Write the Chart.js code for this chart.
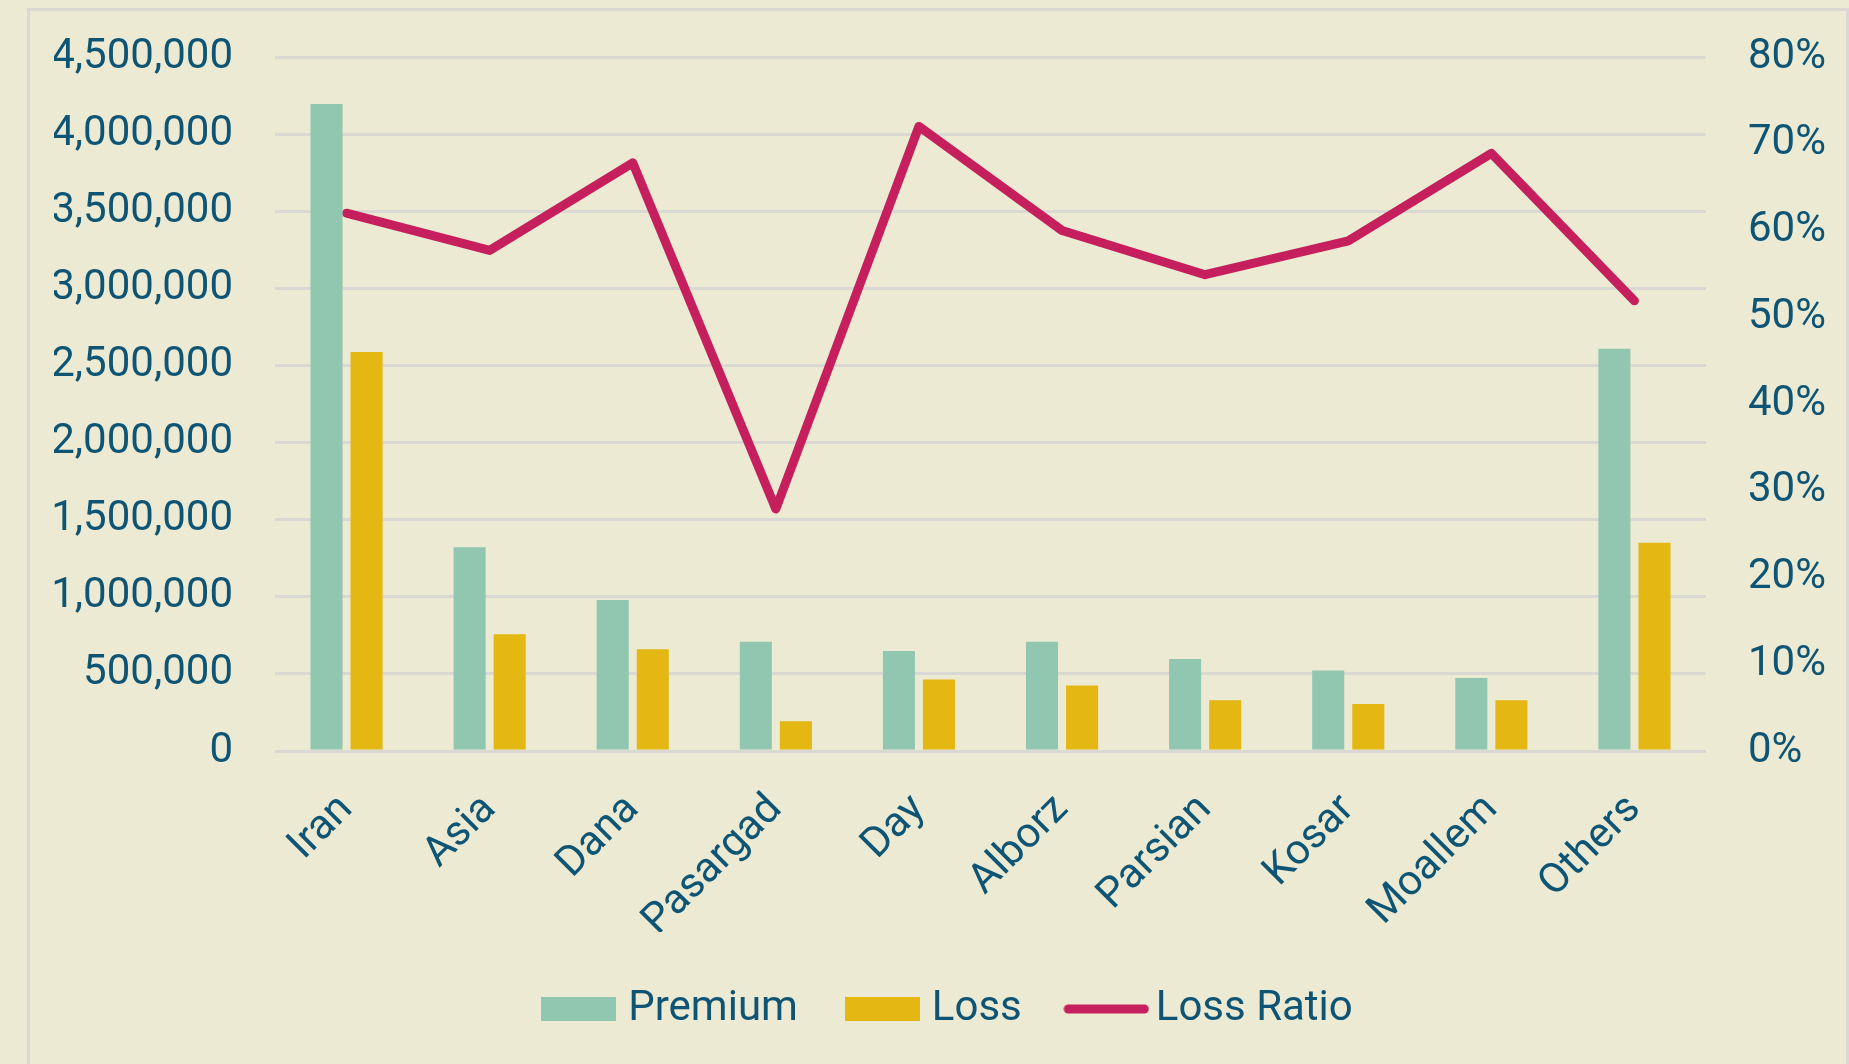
<!DOCTYPE html>
<html>
<head>
<meta charset="utf-8">
<script src="https://cdn.jsdelivr.net/npm/chart.js@4.4.1/dist/chart.umd.min.js"></script>
<style>
  html, body { margin: 0; padding: 0; background: #ECEAD2; overflow: hidden; }
  #frame { position: absolute; left: 27px; top: 8px; width: 1822px; height: 1100px;
           border: 3px solid #D9D8D3; box-sizing: border-box; }
  #wrap { position: absolute; left: 0; top: 0; width: 1849px; height: 1064px; }
</style>
</head>
<body>
<div id="frame"></div>
<div id="wrap"><canvas id="c" width="1849" height="1064"></canvas></div>
<script>
const categories = ['Iran', 'Asia', 'Dana', 'Pasargad', 'Day', 'Alborz', 'Parsian', 'Kosar', 'Moallem', 'Others'];
const premium = [4195000, 1321000, 979000, 709000, 649000, 709000, 597000, 522000, 474000, 2608000];
const loss = [2587000, 757000, 660000, 193000, 463000, 425000, 329000, 304000, 329000, 1351000];
const lossRatio = [62.0, 57.7, 67.8, 27.9, 72.0, 60.0, 54.9, 58.8, 68.9, 51.9];
const seriesNames = ['Premium', 'Loss', 'Loss Ratio'];
const leftTicks = { min: 0, max: 4500000, step: 500000 };
const rightTicks = { min: 0, max: 80, step: 10 };

const TEXT = '#0E5474';
const GRID = '#D9D8D3';
const COLORS = ['#91C6B0', '#E4B713', '#C51F5D'];
const FONT = { family: 'Roboto', size: 42 };
const LINE_W = 9;

// legend swatches
function rectSwatch(color) {
  const c = document.createElement('canvas');
  c.width = 75; c.height = 24;
  const g = c.getContext('2d'); g.fillStyle = color; g.fillRect(0, 0, 75, 24);
  return c;
}
function lineSwatch(color) {
  const c = document.createElement('canvas');
  c.width = 86; c.height = 12;
  const g = c.getContext('2d');
  g.strokeStyle = color; g.lineWidth = LINE_W; g.lineCap = 'round';
  g.beginPath(); g.moveTo(5, 6); g.lineTo(81, 6); g.stroke();
  return c;
}

function draw() {
  const swatches = [rectSwatch(COLORS[0]), rectSwatch(COLORS[1]), lineSwatch(COLORS[2])];
  new Chart(document.getElementById('c'), {
    data: {
      labels: categories,
      datasets: [
        { type: 'bar', label: seriesNames[0], data: premium, backgroundColor: COLORS[0], yAxisID: 'y',
          categoryPercentage: 0.56, barPercentage: 0.8, borderWidth: 0 },
        { type: 'bar', label: seriesNames[1], data: loss, backgroundColor: COLORS[1], yAxisID: 'y',
          categoryPercentage: 0.56, barPercentage: 0.8, borderWidth: 0 },
        { type: 'line', label: seriesNames[2], data: lossRatio, borderColor: COLORS[2], backgroundColor: COLORS[2],
          borderWidth: LINE_W, pointRadius: 0, borderCapStyle: 'round', borderJoinStyle: 'round', yAxisID: 'y1', tension: 0 }
      ]
    },
    options: {
      responsive: false,
      animation: false,
      layout: { padding: { left: 54, right: 0, top: 57, bottom: 24 } },
      plugins: {
        tooltip: { enabled: false },
        legend: {
          position: 'bottom',
          labels: {
            usePointStyle: true,
            pointStyleWidth: 57,
            boxHeight: 24,
            padding: 56,
            color: TEXT,
            font: FONT,
            generateLabels(chart) {
              const items = Chart.defaults.plugins.legend.labels.generateLabels(chart);
              items.forEach((it, i) => {
                it.pointStyle = swatches[i];
                it.lineWidth = 0;
                it.fillStyle = COLORS[i];
                it.strokeStyle = COLORS[i];
              });
              return items;
            }
          }
        }
      },
      scales: {
        x: {
          grid: { display: false },
          border: { display: false },
          ticks: { color: TEXT, font: FONT, maxRotation: 45, minRotation: 45, padding: 26 },
          afterFit(s) { s.height = 181; }
        },
        y: {
          position: 'left',
          min: leftTicks.min, max: leftTicks.max,
          grid: { color: GRID, lineWidth: 3, drawTicks: false },
          border: { display: false },
          ticks: { stepSize: leftTicks.step, color: TEXT, font: FONT, padding: 42,
                   callback: v => Number(v).toLocaleString('en-US') },
          afterFit(s) { s.width = 221; s.paddingTop = 0; s.paddingBottom = 0; }
        },
        y1: {
          position: 'right',
          min: rightTicks.min, max: rightTicks.max,
          grid: { drawOnChartArea: false, drawTicks: false },
          border: { display: false },
          ticks: { stepSize: rightTicks.step, color: TEXT, font: FONT, padding: 42,
                   callback: v => v + '%' },
          afterFit(s) { s.width = 143; s.paddingTop = 0; s.paddingBottom = 0; }
        }
      }
    }
  });
}
if (document.fonts && document.fonts.load) {
  document.fonts.load('42px Roboto').then(draw, draw);
} else { draw(); }
</script>
</body>
</html>
